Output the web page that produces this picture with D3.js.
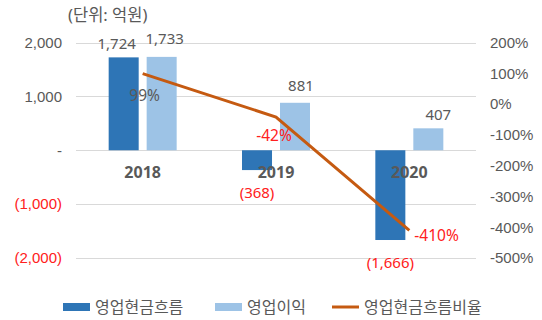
<!DOCTYPE html>
<html>
<head>
<meta charset="utf-8">
<script src="https://cdn.jsdelivr.net/npm/d3@7"></script>
<style>
  html, body { margin: 0; padding: 0; background: #fff; }
  svg { display: block; font-family: "Noto Sans", "Noto Sans CJK KR", sans-serif; }
</style>
</head>
<body>
<svg id="chart" width="542" height="320"></svg>
<script>
// Operating cash flow vs operating profit (unit: 억원), with the cash-flow ratio on the right axis
const years = ["2018", "2019", "2020"];
const cashFlow = [1724, -368, -1666];        // 영업현금흐름
const operatingProfit = [1733, 881, 407];     // 영업이익
const cashFlowRatio = [99, -42, -410];        // 영업현금흐름비율 (%)
const leftTicks = [2000, 1000, 0, -1000, -2000];
const rightTicks = [200, 100, 0, -100, -200, -300, -400, -500];
const seriesNames = ["영업현금흐름", "영업이익", "영업현금흐름비율"];

const colors = { cf: "#2E75B6", op: "#9DC3E6", ratio: "#C55A11", text: "#595959", neg: "#FF2020", grid: "#D9D9D9" };

const svg = d3.select("#chart");
const plot = { left: 76, right: 476, top: 42.5, bottom: 258 };

const x = d3.scaleBand().domain(years).range([plot.left, plot.right])
  .paddingInner(0.49).paddingOuter(0.245);
const xs = d3.scaleBand().domain(["cf", "op"]).range([0, x.bandwidth()]).paddingInner(0.21);
const y = d3.scaleLinear().domain([-2000, 2000]).range([plot.bottom, plot.top]);
const yR = d3.scaleLinear().domain([-500, 200]).range([plot.bottom, plot.top]);

const fmtNum = v => v === 0 ? "-" : (v < 0 ? "(" + d3.format(",")(-v) + ")" : d3.format(",")(v));

// unit caption
svg.append("text").attr("x", 68).attr("y", 21).attr("font-size", 16.5).attr("fill", colors.text)
  .text("(단위: 억원)");

// gridlines
svg.append("g").selectAll("line").data(leftTicks).join("line")
  .attr("x1", plot.left).attr("x2", plot.right)
  .attr("y1", d => Math.round(y(d)) + 0.5).attr("y2", d => Math.round(y(d)) + 0.5)
  .attr("stroke", colors.grid).attr("stroke-width", 1);

// left axis
const leftAxis = svg.append("g").attr("transform", `translate(${plot.left - 14},0)`)
  .call(d3.axisLeft(y).tickValues(leftTicks).tickSize(0).tickPadding(0).tickFormat(fmtNum));
leftAxis.select(".domain").remove();
leftAxis.selectAll("text").attr("font-size", 15).attr("font-family", null)
  .attr("fill", d => d < 0 ? colors.neg : colors.text);

// right axis
const rightAxis = svg.append("g").attr("transform", `translate(${plot.right + 14},0)`)
  .call(d3.axisRight(yR).tickValues(rightTicks).tickSize(0).tickPadding(0).tickFormat(d => d + "%"));
rightAxis.select(".domain").remove();
rightAxis.selectAll("text").attr("font-size", 15).attr("font-family", null).attr("fill", colors.text);

// bars
const rows = years.map((yr, i) => ({ year: yr, cf: cashFlow[i], op: operatingProfit[i], ratio: cashFlowRatio[i] }));
const groups = svg.append("g").selectAll("g").data(rows).join("g")
  .attr("transform", d => `translate(${x(d.year)},0)`);
["cf", "op"].forEach(key => {
  groups.append("rect")
    .attr("x", xs(key)).attr("width", xs.bandwidth())
    .attr("y", d => y(Math.max(0, d[key])))
    .attr("height", d => Math.abs(y(d[key]) - y(0)))
    .attr("fill", colors[key]);
});

// category labels just below the zero line
svg.append("g").selectAll("text").data(years).join("text")
  .attr("x", d => x(d) + x.bandwidth() / 2).attr("y", y(0) + 28)
  .attr("text-anchor", "middle").attr("font-size", 16).attr("font-weight", "bold")
  .attr("fill", colors.text).text(d => d);

// bar value labels: above positive bars, below negative ones, with small hand nudges
const labelShift = {
  cf: [{ dx: -7, dy: 0 }, { dx: 0, dy: 0 }, { dx: 0, dy: 0 }],
  op: [{ dx: 3, dy: -5 }, { dx: 6, dy: -4 }, { dx: 10, dy: 0 }]
};
["cf", "op"].forEach(key => {
  svg.append("g").selectAll("text").data(rows).join("text")
    .attr("x", (d, i) => x(d.year) + xs(key) + xs.bandwidth() / 2 + labelShift[key][i].dx)
    .attr("y", (d, i) => (d[key] >= 0 ? y(d[key]) - 8 : y(d[key]) + 28) + labelShift[key][i].dy)
    .attr("text-anchor", "middle").attr("font-size", 15)
    .attr("fill", d => d[key] < 0 ? colors.neg : colors.text)
    .text(d => fmtNum(d[key]));
});

// ratio line
const cx = d => x(d.year) + x.bandwidth() / 2;
svg.append("path").datum(rows)
  .attr("d", d3.line().x(cx).y(d => yR(d.ratio)))
  .attr("fill", "none").attr("stroke", colors.ratio).attr("stroke-width", 3);

// ratio labels
const ratioPos = [
  { dx: 2, dy: 27, anchor: "middle" },
  { dx: -2, dy: 24, anchor: "middle" },
  { dx: 5, dy: 11, anchor: "start" }
];
svg.append("g").selectAll("text").data(rows).join("text")
  .attr("x", (d, i) => cx(d) + ratioPos[i].dx)
  .attr("y", (d, i) => yR(d.ratio) + ratioPos[i].dy)
  .attr("text-anchor", (d, i) => ratioPos[i].anchor)
  .attr("font-size", 15.5)
  .attr("fill", d => d.ratio < 0 ? colors.neg : colors.text)
  .text(d => d.ratio + "%");

// legend
const legend = svg.append("g").attr("transform", "translate(0,307)");
const legendItems = [
  { name: seriesNames[0], type: "rect", color: colors.cf, x: 63 },
  { name: seriesNames[1], type: "rect", color: colors.op, x: 215 },
  { name: seriesNames[2], type: "line", color: colors.ratio, x: 332 }
];
legendItems.forEach(it => {
  if (it.type === "rect") {
    legend.append("rect").attr("x", it.x).attr("y", -4).attr("width", 27).attr("height", 8).attr("fill", it.color);
  } else {
    legend.append("line").attr("x1", it.x).attr("x2", it.x + 27).attr("y1", 0).attr("y2", 0)
      .attr("stroke", it.color).attr("stroke-width", 3);
  }
  legend.append("text").attr("x", it.x + 32).attr("y", 0).attr("dy", "0.36em")
    .attr("font-size", 16).attr("fill", colors.text).text(it.name);
});
</script>
</body>
</html>
